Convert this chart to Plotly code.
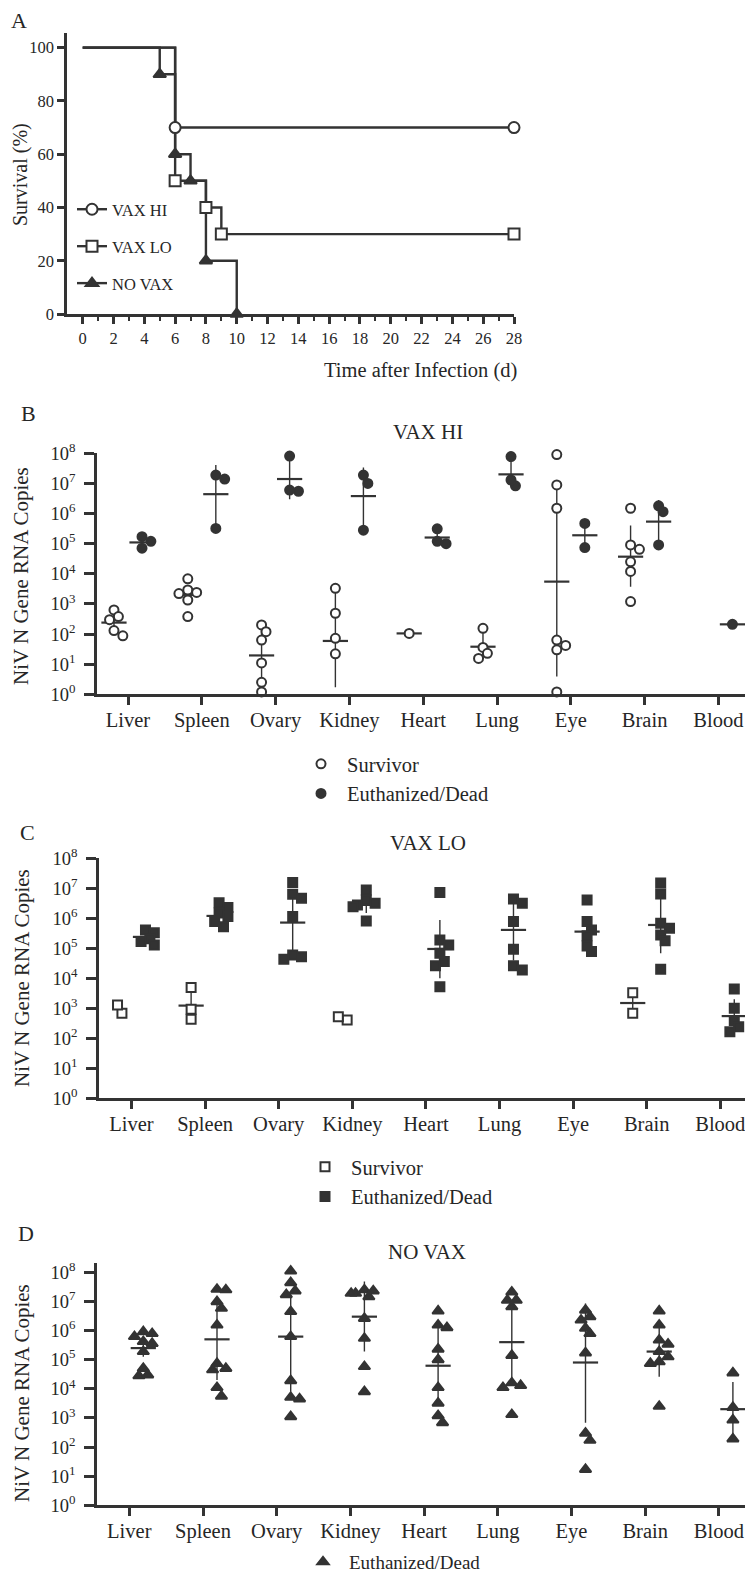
import numpy as np
import plotly.graph_objects as go

INK = "#333333"
TXT = "#262626"
FONT = "Liberation Serif"
# The page body has an 8px margin, so the figure is 8px smaller and every
# reference position is shifted by that offset.
OFF = 8
W, H = 753 - OFF, 1576 - OFF

# ---------------- Panel A: survival (Kaplan-Meier steps) ----------------
hi_days = [0, 6, 28]
hi_surv = [100, 70, 70]
lo_days = [0, 6, 8, 9, 28]
lo_surv = [100, 50, 40, 30, 30]
no_days = [0, 5, 6, 7, 8, 10]
no_surv = [100, 90, 60, 50, 20, 0]
day_ticks = list(range(0, 29, 2))
day_minor = list(range(1, 28, 2))
surv_ticks = [0, 20, 40, 60, 80, 100]

organs = ["Liver", "Spleen", "Ovary", "Kidney", "Heart", "Lung", "Eye", "Brain", "Blood"]
log_ticks = [1, 10, 100, 1e3, 1e4, 1e5, 1e6, 1e7, 1e8]
log_tick_text = ["10<sup>%d</sup>" % k for k in range(9)]

# ---------------- Panel B: VAX HI ----------------
hi_survivor = [
    [630, 300, 380, 130, 87],
    [6800, 2900, 2400, 2200, 1350, 380],
    [200, 120, 63, 11, 2.5, 1.2],
    [3300, 490, 72, 22],
    [105],
    [155, 36, 23, 15.5],
    [9.1e7, 8.9e6, 1.5e6, 63, 42, 30, 1.2],
    [1.5e6, 9.1e4, 6.5e4, 2.5e4, 1.2e4, 1200],
    [],
]
hi_survivor_mean = [240, 2000, 19.5, 59, 105, 38, 5500, 37000, None]
hi_survivor_lo = [140, 1000, 2.6, 1.7, 105, 16, 3.9, 3700, None]
hi_survivor_hi = [420, 4000, 180, 3300, 105, 155, 6.0e6, 4.0e5, None]

hi_dead = [
    [1.7e5, 1.2e5, 7.1e4],
    [1.9e7, 1.4e7, 3.2e5],
    [8.1e7, 5.5e6, 6.0e6],
    [1.9e7, 1.0e7, 2.8e5],
    [3.1e5, 1.2e5, 1.0e5],
    [7.8e7, 8.3e6, 1.3e7],
    [4.7e5, 7.4e4],
    [1.8e6, 1.15e6, 9.1e4],
    [210],
]
hi_dead_mean = [1.1e5, 4.4e6, 1.4e7, 3.8e6, 1.6e5, 2.0e7, 1.9e5, 5.4e5, 210]
hi_dead_lo = [7.8e4, 4.0e5, 3.0e6, 3.2e5, 1.0e5, 8.0e6, 9.0e4, 1.1e5, 210]
hi_dead_hi = [1.55e5, 4.1e7, 8.0e7, 3.4e7, 2.5e5, 7.0e7, 4.0e5, 2.8e6, 210]

# ---------------- Panel C: VAX LO ----------------
lo_survivor = [
    [680, 1300],
    [4900, 930, 430],
    [],
    [410, 520],
    [],
    [],
    [],
    [3300, 680],
    [],
]
lo_survivor_mean = [None, 1230, None, None, None, None, None, 1500, None]
lo_survivor_lo = [None, 470, None, None, None, None, None, 700, None]
lo_survivor_hi = [None, 4500, None, None, None, None, None, 3200, None]

lo_dead = [
    [4.1e5, 3.3e5, 2.1e5, 1.7e5, 1.3e5],
    [3.3e6, 2.3e6, 1.5e6, 1.15e6, 7.8e5, 5.2e5],
    [1.55e7, 6.3e6, 4.7e6, 1.15e6, 6.0e4, 5.2e4, 4.3e4],
    [8.7e6, 4.1e6, 3.2e6, 2.75e6, 2.45e6, 8.1e5],
    [7.2e6, 1.9e5, 1.3e5, 6.8e4, 3.6e4, 2.6e4, 5.2e3],
    [4.4e6, 3.2e6, 7.8e5, 9.3e4, 2.6e4, 1.9e4],
    [4.1e6, 7.8e5, 4.1e5, 2.6e5, 1.2e5, 7.8e4],
    [1.5e7, 6.5e6, 6.8e5, 4.7e5, 2.8e5, 1.8e5, 2.0e4],
    [4400, 1000, 390, 245, 165],
]
lo_dead_mean = [2.4e5, 1.2e6, 7.2e5, 2.8e6, 9.5e4, 4.1e5, 3.6e5, 6.0e5, 550]
lo_dead_lo = [1.4e5, 6.0e5, 5.6e4, 1.5e6, 1.0e4, 3.9e4, 1.0e5, 6.8e4, 200]
lo_dead_hi = [4.0e5, 2.5e6, 6.3e6, 5.2e6, 8.7e5, 3.2e6, 1.15e6, 6.8e6, 2000]

# ---------------- Panel D: NO VAX ----------------
no_dead = [
    [9.1e5, 7.9e5, 6.2e5, 4.2e5, 3.6e5, 1.9e5, 5.0e4, 3.0e4, 2.8e4],
    [2.6e7, 2.5e7, 9.8e6, 5.8e6, 1.55e6, 7.4e4, 5.0e4, 4.5e4, 1.1e4, 5.6e3],
    [1.1e8, 4.4e7, 2.3e7, 1.7e7, 4.5e6, 6.2e5, 1.9e4, 5.1e3, 4.5e3, 1.1e3],
    [2.5e7, 2.3e7, 1.9e7, 1.9e7, 1.45e7, 2.6e6, 5.4e5, 5.8e4, 8.0e3],
    [4.7e6, 1.55e6, 1.26e6, 2.3e5, 1.0e5, 1.1e4, 3.2e3, 1.2e3, 690],
    [2.1e7, 1.1e7, 1.1e7, 6.6e6, 1.4e5, 1.6e4, 1.3e4, 1.1e4, 1.3e3],
    [5.0e6, 3.0e6, 2.3e6, 1.2e6, 7.9e5, 1.7e5, 300, 170, 17],
    [4.7e6, 1.55e6, 4.7e5, 3.4e5, 1.9e5, 1.26e5, 8.5e4, 7.4e4, 2.5e3],
    [3.5e4, 2.3e3, 850, 190],
]
no_dead_mean = [2.5e5, 5.0e5, 6.2e5, 3.0e6, 6.2e4, 4.0e5, 8.0e4, 1.9e5, 2.0e3]
no_dead_lo = [1.26e5, 2.0e4, 8.0e3, 1.9e5, 2.8e3, 1.4e4, 690, 2.6e4, 200]
no_dead_hi = [6.2e5, 1.3e7, 1.7e7, 4.8e7, 1.55e6, 1.1e7, 8.5e6, 1.3e6, 1.7e4]

GROUP_OFFSET = 0.19


def swarm(vals, center, d=0.12, thresh=0.3):
    """Simple beeswarm: spread points sideways only where they would overlap."""
    if len(vals) == 0:
        return []
    logs = np.log10(np.asarray(vals, dtype=float))
    order = np.argsort(-logs)
    xs = np.zeros(len(vals))
    placed = []
    for i in order:
        off = 0.0
        for k in [0, 1, -1, 2, -2, 3, -3]:
            off = k * d * 0.5 if k else 0.0
            ok = True
            for po, pl in placed:
                if abs(off - po) < d * 0.5 * 0.99 and abs(logs[i] - pl) < thresh:
                    ok = False
                    break
                if abs(off - po) < d * 0.99 and abs(logs[i] - pl) < thresh * 0.6:
                    ok = False
                    break
            if ok:
                break
        xs[i] = center + off
        placed.append((off, logs[i]))
    return list(xs)


fig = go.Figure()

# ----- Panel A traces -----
A_series = [
    ("VAX HI", hi_days, hi_surv, "circle", "white", 11),
    ("VAX LO", lo_days, lo_surv, "square", "white", 11),
    ("NO VAX", no_days, no_surv, "triangle-up", INK, 11),
]
for name, d, s, sym, fillc, msz in A_series:
    fig.add_trace(go.Scatter(x=d, y=s, mode="lines", line=dict(shape="hv", color=INK, width=2.4),
                             showlegend=False, xaxis="x", yaxis="y", cliponaxis=False, hoverinfo="skip"))
for name, d, s, sym, fillc, msz in A_series:
    mk = dict(symbol=sym, size=msz, color=fillc, line=dict(color=INK, width=2))
    fig.add_trace(go.Scatter(x=d[1:], y=s[1:], mode="markers", marker=mk, showlegend=False,
                             xaxis="x", yaxis="y", cliponaxis=False))
    fig.add_trace(go.Scatter(x=[None], y=[None], mode="lines+markers", name=name, marker=mk,
                             line=dict(color=INK, width=2.4), legend="legend", legendgroup=name,
                             xaxis="x", yaxis="y"))

# ----- Panels B, C, D -----
panels = [
    ("x2", "y2", "legend2", hi_survivor, hi_survivor_mean, hi_survivor_lo, hi_survivor_hi,
     hi_dead, hi_dead_mean, hi_dead_lo, hi_dead_hi, "circle"),
    ("x3", "y3", "legend3", lo_survivor, lo_survivor_mean, lo_survivor_lo, lo_survivor_hi,
     lo_dead, lo_dead_mean, lo_dead_lo, lo_dead_hi, "square"),
    ("x4", "y4", "legend4", None, None, None, None,
     no_dead, no_dead_mean, no_dead_lo, no_dead_hi, "triangle-up"),
]

for xa, ya, lg, sv, svm, svl, svh, dd, ddm, ddl, ddh, sym in panels:
    groups = []
    if sv is not None:
        groups.append(("Survivor", sv, svm, svl, svh, -GROUP_OFFSET, "white"))
    groups.append(("Euthanized/Dead", dd, ddm, ddl, ddh, GROUP_OFFSET, INK))
    # mean + error bars
    for name, vals, m, l, h, off, fillc in groups:
        mx, my, up, dn = [], [], [], []
        for i in range(len(organs)):
            if m[i] is None:
                continue
            mx.append(i + off)
            my.append(m[i])
            up.append(h[i] - m[i])
            dn.append(m[i] - l[i])
        fig.add_trace(go.Scatter(
            x=mx, y=my, mode="markers", xaxis=xa, yaxis=ya, showlegend=False, cliponaxis=False,
            marker=dict(symbol="line-ew", size=18, line=dict(color=INK, width=2.2)),
            error_y=dict(type="data", symmetric=False, array=up, arrayminus=dn,
                         color=INK, thickness=1.4, width=0)))
    # points
    for name, vals, m, l, h, off, fillc in groups:
        px, py = [], []
        for i in range(len(organs)):
            px += swarm(vals[i], i + off)
            py += list(vals[i])
        msize = 10 if sym == "triangle-up" else 9
        fig.add_trace(go.Scatter(
            x=px, y=py, mode="markers", name=name, xaxis=xa, yaxis=ya, legend=lg,
            cliponaxis=False,
            marker=dict(symbol=sym, size=msize, color=fillc, line=dict(color=INK, width=2))))


def ax(**kw):
    d = dict(showline=True, linecolor=INK, linewidth=2.5, ticks="outside", tickcolor=INK,
             tickwidth=2.5, showgrid=False, zeroline=False, automargin=False)
    d.update(kw)
    return d


def py_(p):
    return 1 - (p - OFF) / H


def px_(p):
    return (p - OFF) / W


layout = dict(
    width=W, height=H, margin=dict(l=0, r=0, t=0, b=0, autoexpand=False),
    paper_bgcolor="white", plot_bgcolor="white",
    font=dict(family=FONT, color=TXT),
    xaxis=ax(domain=[px_(67), px_(514)], range=[-1.02, 28], anchor="y",
             tickvals=day_ticks, ticklen=7, ticklabelstandoff=0,
             tickfont=dict(size=16.5, family=FONT, color=TXT),
             minor=dict(tickmode="array", tickvals=day_minor, ticks="outside", ticklen=4,
                        tickwidth=2, tickcolor=INK)),
    yaxis=ax(domain=[py_(314), py_(33)], range=[0, 105.5], anchor="x",
             tickvals=surv_ticks, ticklen=7, tickfont=dict(size=16.5, family=FONT, color=TXT)),
)

panel_geo = [
    ("xaxis2", "yaxis2", "x2", "y2", 97, 128, 73.8, 694.3, 453.3, 8.0),
    ("xaxis3", "yaxis3", "x3", "y3", 99, 131.5, 73.6, 1098.3, 858.3, 8.0),
    ("xaxis4", "yaxis4", "x4", "y4", 97, 129.3, 73.7, 1505.3, 1263.0, 8.32),
]
for xk, yk, xa, ya, yax, t0, sp, yb, yt, rtop in panel_geo:
    layout[xk] = ax(domain=[px_(yax), 1.0], range=[-(t0 - yax) / sp, (753 - t0) / sp], anchor=ya,
                    tickvals=list(range(len(organs))), ticktext=organs, ticklen=8,
                    ticklabelstandoff=-3, tickfont=dict(size=20.5, family=FONT, color=TXT))
    layout[yk] = ax(domain=[py_(yb), py_(yt)], type="log", range=[0, rtop], anchor=xa,
                    tickvals=log_ticks, ticktext=log_tick_text, ticklen=10,
                    ticklabelstandoff=5, tickfont=dict(size=18.5, family=FONT, color=TXT))

leg_common = dict(bgcolor="rgba(0,0,0,0)", borderwidth=0, xanchor="left", yanchor="top",
                  font=dict(family=FONT, size=20.5, color=TXT))
layout["legend"] = dict(leg_common, x=px_(72), y=py_(192), tracegroupgap=12.5, traceorder="grouped",
                        font=dict(family=FONT, size=16.5, color=TXT))
layout["legend2"] = dict(leg_common, x=px_(295), y=py_(744), traceorder="normal", itemwidth=42)
layout["legend3"] = dict(leg_common, x=px_(299), y=py_(1147), traceorder="normal", itemwidth=42)
layout["legend4"] = dict(leg_common, x=px_(297), y=py_(1543), traceorder="normal", itemwidth=42,
                         font=dict(family=FONT, size=19, color=TXT))

ann = []


def text(t, x, y, size, angle=0):
    ann.append(dict(text=t, x=px_(x), y=py_(y), xref="paper", yref="paper", showarrow=False,
                    xanchor="center", yanchor="middle", textangle=angle,
                    font=dict(family=FONT, size=size, color=TXT)))


text("A", 19, 20, 22)
text("B", 28, 413, 22)
text("C", 27, 832, 22)
text("D", 26, 1233, 22)
text("VAX HI", 428, 432, 21)
text("VAX LO", 428, 843, 21)
text("NO VAX", 427, 1252, 21)
text("Survival (%)", 21, 175, 20, -90)
text("Time after Infection (d)", 420, 370, 20.5)
text("NiV N Gene RNA Copies", 21, 576, 21, -90)
text("NiV N Gene RNA Copies", 22, 978, 21, -90)
text("NiV N Gene RNA Copies", 22, 1393, 21, -90)
layout["annotations"] = ann

fig.update_layout(**layout)
fig.write_html("out.html")
